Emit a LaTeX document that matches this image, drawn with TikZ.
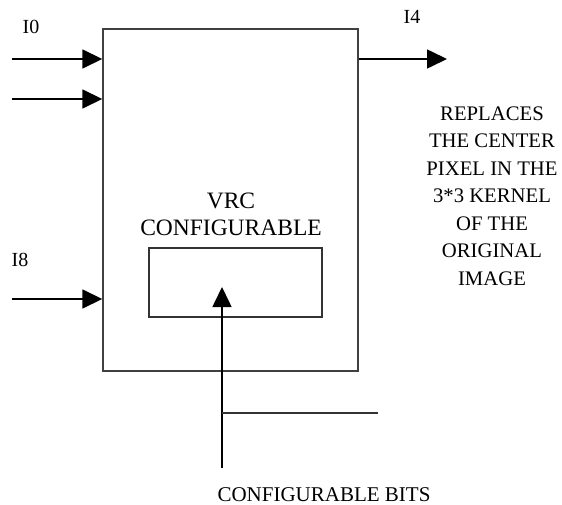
\documentclass[tikz,border=0pt]{standalone}
\usepackage{fontspec}
\setmainfont{Liberation Serif}
\usetikzlibrary{arrows.meta}
\begin{document}
\begin{tikzpicture}[x=1pt,y=-1pt,
  lbl/.style={font=\fontsize{20}{27}\selectfont, inner sep=0pt, align=center},
  arr/.style={line width=1.6pt, -{Triangle[length=20pt,width=19pt]}},
  boxst/.style={draw, line width=1.4pt, inner sep=0pt}]
\useasboundingbox (0,0) rectangle (562,505);
\node[boxst, minimum width=255pt, minimum height=342pt, draw=black!75] (outer) at (230.5,200) {};
\node[boxst, minimum width=173pt, minimum height=69pt, draw=black!80] (inner) at (235.5,282.5) {};
\node[lbl, font=\fontsize{23.5}{27}\selectfont] (vrc) at (231,214.5) {VRC\\CONFIGURABLE};
\coordinate (in0) at (12,59);
\coordinate (in1) at (12,99);
\coordinate (in8) at (12,299);
\draw[arr] (in0) -- (in0 -| outer.west);
\draw[arr] (in1) -- (in1 -| outer.west);
\draw[arr] (in8) -- (in8 -| outer.west);
\node[lbl] (l0) at (31,27) {I0};
\node[lbl] (l8) at (20,260) {I8};
\coordinate (out4) at (447,59);
\draw[arr] (out4 -| outer.east) -- (out4);
\node[lbl] (l4) at (412,17) {I4};
\node[lbl, font=\fontsize{20.7}{27.5}\selectfont] (desc) at (492,196) {REPLACES\\THE CENTER\\PIXEL IN THE\\3*3 KERNEL\\OF THE\\ORIGINAL\\IMAGE};
\coordinate (cb) at (222,468);
\coordinate (tip) at (222,287);
\coordinate (hl) at (378,413);
\draw[arr] (cb) -- (tip);
\draw[line width=1.2pt, black!80] (hl -| cb) -- (hl);
\node[lbl, font=\fontsize{21}{27}\selectfont] (bits) at (324,494.5) {CONFIGURABLE BITS};
\end{tikzpicture}
\end{document}
